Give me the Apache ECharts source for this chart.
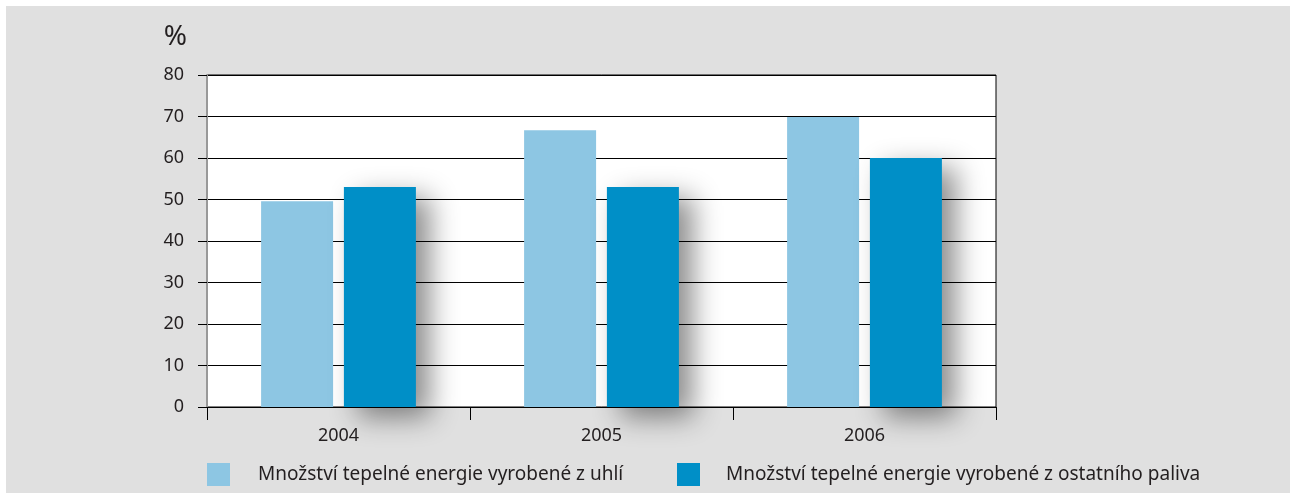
<!DOCTYPE html>
<html>
<head>
<meta charset="utf-8">
<script src="https://cdn.jsdelivr.net/npm/echarts@6/dist/echarts.min.js"></script>
<style>
  html, body { margin: 0; padding: 0; background: #fff; }
  #chart { width: 1290px; height: 493px; }
</style>
</head>
<body>
<div id="chart"></div>
<script>
const years = ['2004', '2005', '2006']
const coalName = 'Množství tepelné energie vyrobené z uhlí'
const otherName = 'Množství tepelné energie vyrobené z ostatního paliva'
const coalValues = [49.6, 66.7, 69.9]
const otherValues = [53.0, 53.0, 60.0]

const textColor = '#231f20'
const font = '"Noto Sans", "Open Sans", sans-serif'

const chart = echarts.init(document.getElementById('chart'))
chart.setOption({
  animation: false,
  backgroundColor: '#fff',
  textStyle: { fontFamily: font, color: textColor },
  graphic: [{
    type: 'rect',
    z: -10,
    silent: true,
    shape: { x: 6, y: 6, width: 1284, height: 487 },
    style: { fill: '#e0e0e0' }
  }],
  grid: {
    left: 207,
    right: 294,
    top: 75,
    bottom: 86,
    show: true,
    backgroundColor: '#fff',
    borderColor: '#000',
    borderWidth: 1
  },
  legend: [
    {
      left: 207, top: 463, padding: 0,
      itemWidth: 23, itemHeight: 23,
      icon: 'rect',
      data: [coalName],
      textStyle: { fontSize: 19, color: textColor, fontFamily: font, padding: [0, 0, 0, 23] }
    },
    {
      left: 677, top: 463, padding: 0,
      itemWidth: 23, itemHeight: 23,
      icon: 'rect',
      data: [otherName],
      textStyle: { fontSize: 19, color: textColor, fontFamily: font, padding: [0, 0, 0, 21] }
    }
  ],
  xAxis: {
    type: 'category',
    data: years,
    axisLine: { lineStyle: { color: '#000', width: 1 } },
    axisTick: { show: true, length: 13, lineStyle: { color: '#000' } },
    axisLabel: { fontSize: 18, color: textColor, margin: 20, fontFamily: font }
  },
  yAxis: {
    type: 'value',
    min: 0,
    max: 80,
    interval: 10,
    name: '%',
    nameLocation: 'end',
    nameGap: 24,
    nameTextStyle: { fontSize: 28, color: textColor, align: 'right', padding: [0, 20, 0, 0], fontFamily: font },
    axisLine: { show: true, lineStyle: { color: '#999', width: 2 } },
    axisTick: { show: true, length: 9, lineStyle: { color: '#000' } },
    axisLabel: { fontSize: 18, color: textColor, margin: 23, fontFamily: font },
    splitLine: { show: true, lineStyle: { color: '#000', width: 1.2 } }
  },
  series: [
    {
      name: coalName,
      type: 'bar',
      data: coalValues,
      barWidth: 72,
      barGap: '15%',
      itemStyle: { color: '#8dc6e3' }
    },
    {
      name: otherName,
      type: 'bar',
      data: otherValues,
      barWidth: 72,
      itemStyle: {
        color: '#008fc7',
        shadowColor: 'rgba(0,0,0,0.45)',
        shadowBlur: 28,
        shadowOffsetX: 14,
        shadowOffsetY: 10
      }
    }
  ]
})
</script>
</body>
</html>
